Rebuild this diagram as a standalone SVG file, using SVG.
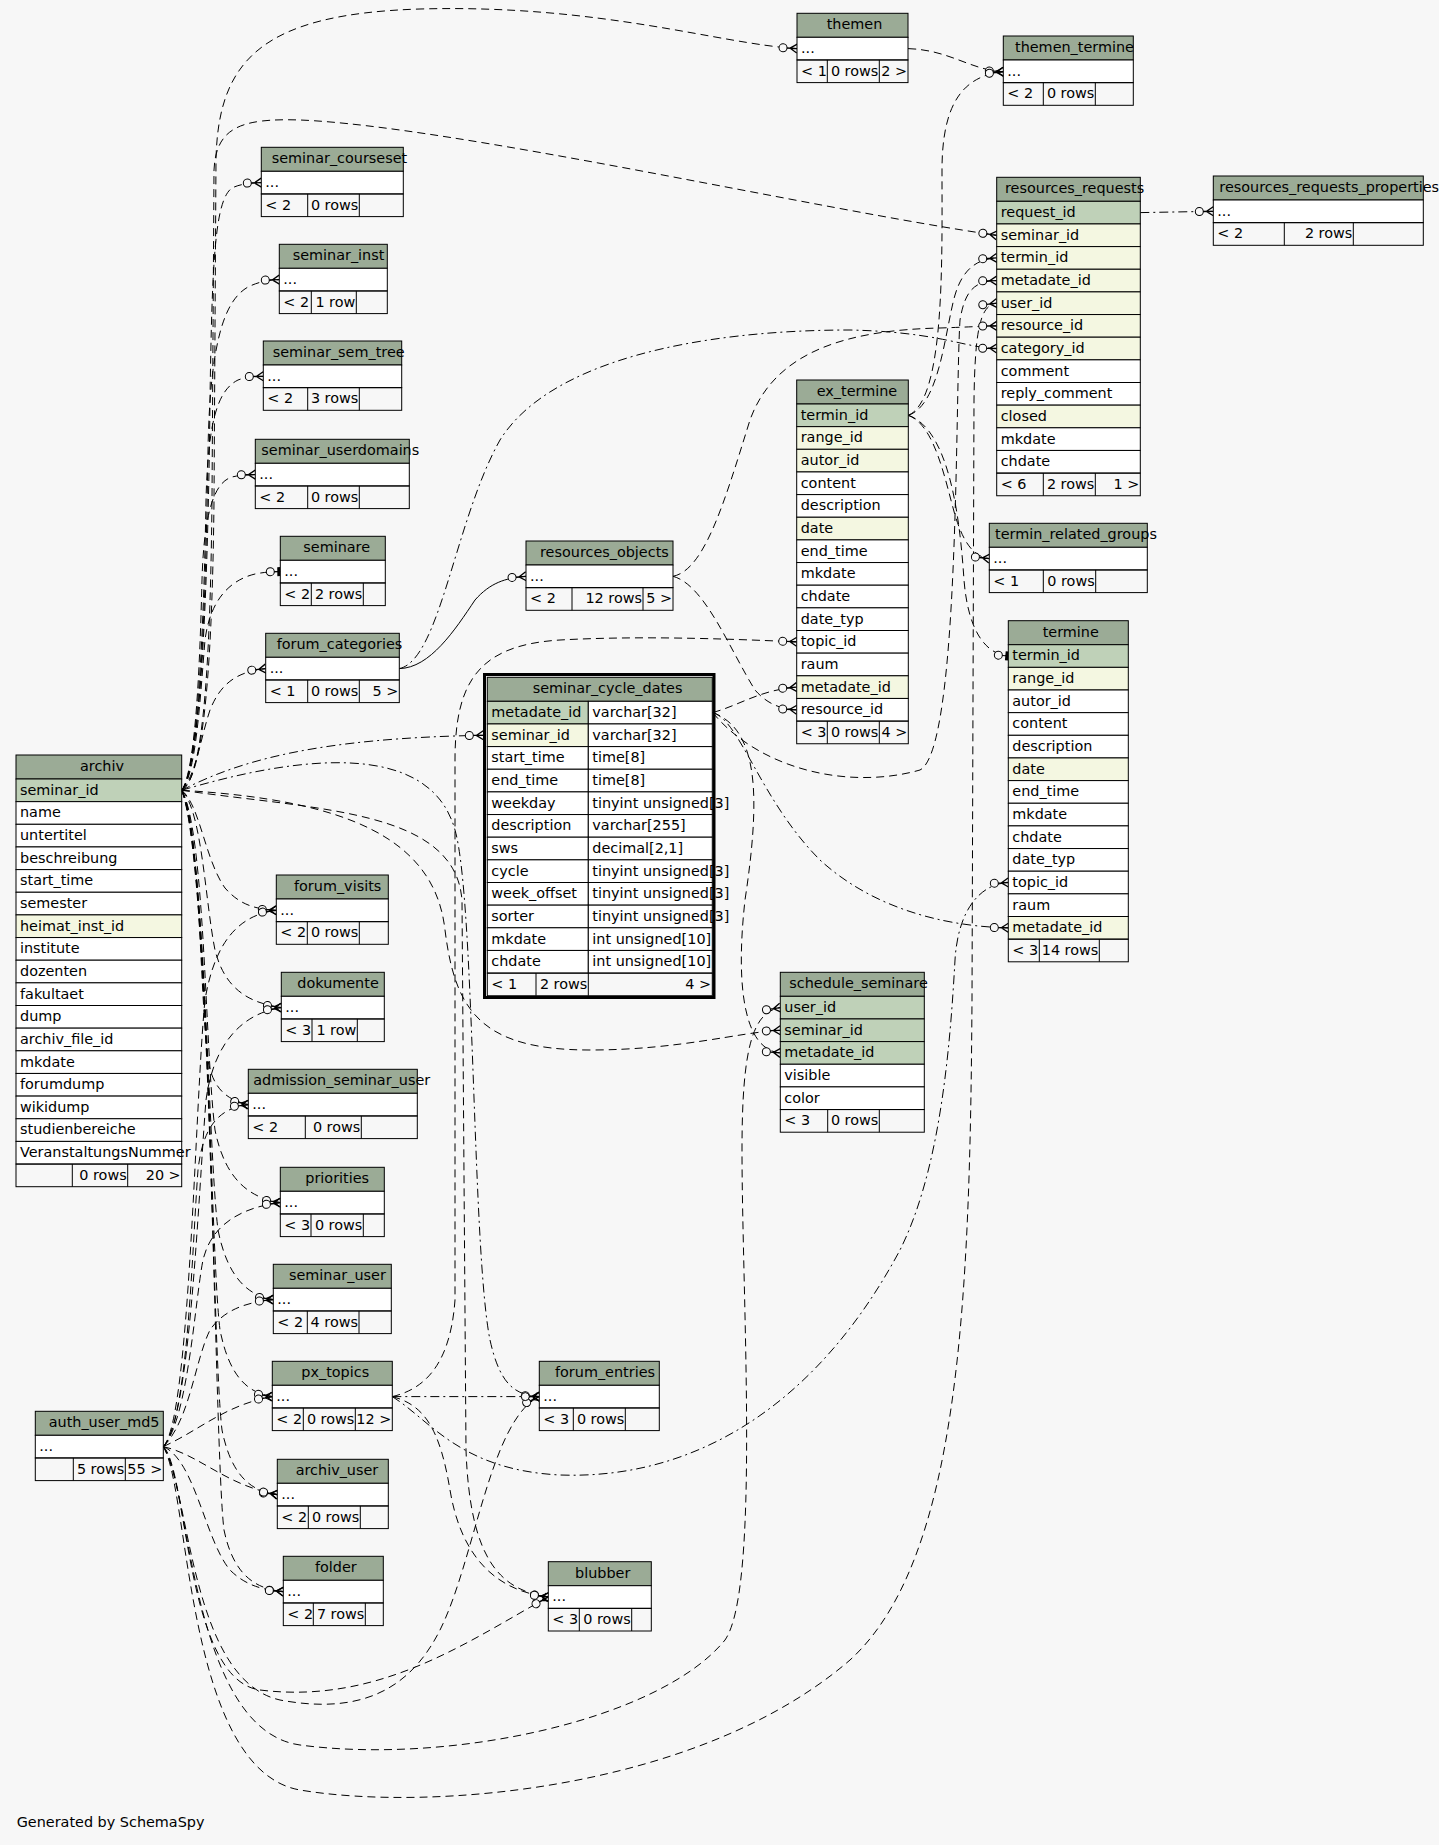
<svg xmlns="http://www.w3.org/2000/svg" width="1439" height="1845" viewBox="0 0 1439 1845">
<style>
text{font-family:"DejaVu Sans","Liberation Sans",sans-serif;font-size:14.4px;fill:#000}
.e{text-anchor:end}
.hd{fill:#9bab96;stroke:#000;stroke-width:1}
.pk{fill:#bfd1b8;stroke:#000;stroke-width:1}
.ix{fill:#f4f7e1;stroke:#000;stroke-width:1}
.w{fill:#fff;stroke:#000;stroke-width:1}
.ft{fill:none;stroke:#000;stroke-width:1}
.dv{stroke:#000;stroke-width:1}
.cn path{fill:none;stroke:#000;stroke-width:1;marker-end:url(#cf)}
.cn path.d{stroke-dasharray:8,5}
.cn path.dd{stroke-dasharray:9,4,2,4}
.cn path.o{marker-end:url(#tc)}
.cn path.n{marker-end:none}
</style>
<defs>
<marker id="cf" markerUnits="userSpaceOnUse" markerWidth="20" markerHeight="12" refX="0" refY="0" orient="auto" overflow="visible">
<circle cx="-14" cy="0" r="4" fill="#f7f7f7" stroke="#000" stroke-width="1"/>
<path d="M0,-4.5 L-7,0 L0,4.5 M-10,0 L0,0" fill="none" stroke="#000" stroke-width="1.3"/>
</marker>
<marker id="tc" markerUnits="userSpaceOnUse" markerWidth="20" markerHeight="12" refX="0" refY="0" orient="auto" overflow="visible">
<circle cx="-10" cy="0" r="4" fill="#f7f7f7" stroke="#000" stroke-width="1"/>
<path d="M-6,0 L0,0" stroke="#000" stroke-width="1"/>
<rect x="-3" y="-4.5" width="3" height="9" fill="#000"/>
</marker>
</defs>
<rect x="0" y="0" width="1439" height="1845" fill="#f7f7f7"/>

<g id="connectors" class="cn">
<path class="d" d="M181.7,790.3 C200,780 212,700 214,500 L216,160 C218,60 262,14 420,9 C600,4 720,44 797,48.6"/>
<path class="d" d="M181.7,790.3 C200,780 210,700 212,500 L214,170 C216,128 240,118 300,120 C450,126 820,210 996.7,235.3"/>
<path class="d" d="M181.7,790.3 C200,770 208,600 210,400 C212,260 215,200 232,188 C240,184 250,183 261.3,182.6"/>
<path class="d" d="M181.7,790.3 C200,770 206,600 208,450 C210,340 225,300 248,287 C258,282 268,280 279.3,279.6"/>
<path class="d" d="M181.7,790.3 C198,770 204,620 206,500 C208,420 218,390 238,380 C246,377 254,376.5 263.3,376.3"/>
<path class="d" d="M181.7,790.3 C196,770 200,660 202,580 C204,510 215,482 232,477 C240,475 248,474.7 255.3,474.6"/>
<path class="d o" d="M181.7,790.3 C196,775 200,700 205,640 C210,600 230,580 255,574 C265,572 272,571.7 280.3,571.6"/>
<path class="d" d="M181.7,790.3 C196,775 200,740 210,710 C220,685 235,672 265.7,668.6"/>
<path class="dd" d="M181.7,790.3 C240,760 320,738 483.3,735.3"/>
<path class="d" d="M181.7,790.3 C200,805 205,860 225,888 C240,905 255,909 276.3,910.3"/>
<path class="d" d="M181.7,790.3 C202,810 205,900 215,950 C225,990 250,1003 281.3,1007.6"/>
<path class="d" d="M181.7,790.3 C200,820 200,1000 208,1060 C213,1090 228,1100 248.3,1104.6"/>
<path class="d" d="M181.7,790.3 C205,830 205,1050 215,1130 C225,1180 250,1198 280.3,1202.6"/>
<path class="d" d="M181.7,790.3 C205,840 208,1150 218,1230 C228,1280 250,1296 273.3,1299.6"/>
<path class="d" d="M181.7,790.3 C208,850 210,1250 220,1330 C230,1380 250,1393 272.3,1396.6"/>
<path class="d" d="M181.7,790.3 C210,860 212,1350 222,1430 C232,1480 255,1492 277.3,1494.6"/>
<path class="d" d="M181.7,790.3 C212,870 214,1450 224,1530 C234,1578 258,1589 283.3,1591.6"/>
<path class="dd" d="M181.7,790.3 C300,755 430,740 455,830 C475,900 472,1250 490,1340 C500,1385 515,1395 539.3,1396.6"/>
<path class="d" d="M181.7,790.3 C320,810 455,810 462,900 L466,1450 C470,1560 500,1590 548.3,1597"/>
<path class="d" d="M181.7,790.3 C350,800 435,840 445,930 C455,1010 480,1050 590,1050 C680,1050 740,1032 780.3,1030.3"/>
<path class="d" d="M163.3,1446.6 C190,1420 195,1100 205,1000 C215,940 240,915 276.3,910.3"/>
<path class="d" d="M163.3,1446.6 C190,1420 198,1200 206,1100 C214,1040 245,1013 281.3,1007.6"/>
<path class="d" d="M163.3,1446.6 C188,1420 192,1250 198,1170 C203,1125 220,1108 248.3,1104.6"/>
<path class="d" d="M163.3,1446.6 C188,1420 195,1300 203,1260 C212,1222 245,1207 280.3,1202.6"/>
<path class="d" d="M163.3,1446.6 C190,1420 195,1360 210,1330 C225,1308 250,1302 273.3,1299.6"/>
<path class="d" d="M163.3,1446.6 C200,1430 225,1405 272.3,1396.6"/>
<path class="d" d="M163.3,1446.6 C200,1455 225,1485 277.3,1494.6"/>
<path class="d" d="M163.3,1446.6 C195,1460 205,1540 230,1570 C245,1585 262,1590 283.3,1591.6"/>
<path class="d" d="M163.3,1446.6 C190,1490 190,1680 280,1700 C360,1715 410,1690 440,1630 C475,1560 490,1420 539.3,1396.6"/>
<path class="d" d="M163.3,1446.6 C188,1470 185,1680 260,1690 C380,1705 470,1640 548.3,1597"/>
<path class="d" d="M163.3,1446.6 C190,1480 190,1730 300,1745 C450,1765 660,1720 725,1640 C760,1590 742,1300 742,1150 C742,1050 752,1012 780.3,1007.6"/>
<path class="d" d="M163.3,1446.6 C190,1490 185,1770 300,1790 C430,1812 700,1790 850,1660 C960,1560 970,1300 972,1000 L974,400 C975,330 980,305 996.7,303.2"/>
<path class="d" d="M908,48.6 C950,50 970,70 1003.3,71.7"/>
<path class="dd" d="M1140.3,212.6 L1213.3,211.3"/>
<path class="d" d="M908.3,415.3 C940,405 945,330 955,295 C963,268 978,259 996.7,257.9"/>
<path class="d" d="M908.3,415.3 C945,400 942,260 942,170 C942,105 962,76 1003.3,71.7"/>
<path class="d" d="M908.3,415.3 C935,425 945,480 955,515 C964,545 975,557 989.3,558.6"/>
<path class="d o" d="M908.3,415.3 C950,430 960,520 964,580 C968,630 985,654 1008.3,656"/>
<path class="d" d="M712.7,712.6 C740,705 760,690 796.7,687.1"/>
<path class="dd" d="M712.7,712.6 C740,720 760,800 820,860 C880,915 960,927 1008.3,927.8"/>
<path class="d" d="M712.7,712.6 C760,730 760,800 745,900 C735,990 745,1050 780.3,1052.9"/>
<path class="d" d="M712.7,712.6 C760,770 850,790 920,770 C960,750 955,400 960,320 C965,290 975,281 996.7,280.6"/>
<path d="M399.3,668.6 C430,668 455,630 475,600 C490,583 505,578 526,576.3"/>
<path class="dd" d="M399.3,668.6 C440,660 455,520 500,440 C550,360 700,330 850,330 C940,332 965,348 996.7,348.5"/>
<path class="d" d="M673,576.3 C705,570 725,500 750,420 C775,350 850,330 940,328 C970,327 985,326 996.7,325.9"/>
<path class="d" d="M673,576.3 C705,585 730,650 755,690 C768,705 782,709 796.7,709.8"/>
<path class="dd" d="M392.3,1396.6 L539.3,1396.6"/>
<path class="d" d="M392.3,1396.6 C425,1405 440,1430 450,1490 C460,1550 490,1590 548.3,1597"/>
<path class="dd" d="M392.3,1396.6 C430,1420 460,1470 560,1475 C700,1480 820,1400 900,1250 C940,1170 950,1050 955,960 C958,910 980,884 1008.3,882.5"/>
<path class="d" d="M392.3,1396.6 C420,1390 450,1370 455,1300 L455,760 C455,680 480,645 560,640 C650,635 750,640 796.7,641.8"/>
</g>

<g id="themen">
<rect class="hd" x="797" y="13.3" width="111" height="24"/><text x="826.7" y="29.3">themen</text>
<rect class="w" x="797" y="37.3" width="111" height="22.65"/><text x="801" y="53">...</text>
<rect class="ft" x="797" y="59.95" width="111" height="22.65"/><path class="dv" d="M827.3,59.95V82.6M879.3,59.95V82.6"/>
<text x="801" y="75.65">&lt; 1</text><text class="e" x="878.3" y="75.65">0 rows</text><text class="e" x="907" y="75.65">2 &gt;</text>
</g>

<g id="themen_termine">
<rect class="hd" x="1003.3" y="36" width="130" height="24"/><text x="1015" y="52">themen_termine</text>
<rect class="w" x="1003.3" y="60" width="130" height="22.65"/><text x="1007.3" y="75.7">...</text>
<rect class="ft" x="1003.3" y="82.65" width="130" height="22.65"/><path class="dv" d="M1043.3,82.65V105.3M1095.3,82.65V105.3"/>
<text x="1007.3" y="98.35">&lt; 2</text><text class="e" x="1094.3" y="98.35">0 rows</text>
</g>

<g id="resources_requests">
<rect class="hd" x="996.7" y="177.3" width="143.6" height="24"/><text x="1005" y="193.3">resources_requests</text>
<rect class="pk" x="996.7" y="201.3" width="143.6" height="22.65"/><text x="1000.7" y="217">request_id</text>
<rect class="ix" x="996.7" y="223.95" width="143.6" height="22.65"/><text x="1000.7" y="239.65">seminar_id</text>
<rect class="ix" x="996.7" y="246.6" width="143.6" height="22.65"/><text x="1000.7" y="262.3">termin_id</text>
<rect class="ix" x="996.7" y="269.25" width="143.6" height="22.65"/><text x="1000.7" y="284.95">metadate_id</text>
<rect class="ix" x="996.7" y="291.9" width="143.6" height="22.65"/><text x="1000.7" y="307.6">user_id</text>
<rect class="ix" x="996.7" y="314.55" width="143.6" height="22.65"/><text x="1000.7" y="330.25">resource_id</text>
<rect class="ix" x="996.7" y="337.2" width="143.6" height="22.65"/><text x="1000.7" y="352.9">category_id</text>
<rect class="w" x="996.7" y="359.85" width="143.6" height="22.65"/><text x="1000.7" y="375.55">comment</text>
<rect class="w" x="996.7" y="382.5" width="143.6" height="22.65"/><text x="1000.7" y="398.2">reply_comment</text>
<rect class="ix" x="996.7" y="405.15" width="143.6" height="22.65"/><text x="1000.7" y="420.85">closed</text>
<rect class="w" x="996.7" y="427.8" width="143.6" height="22.65"/><text x="1000.7" y="443.5">mkdate</text>
<rect class="w" x="996.7" y="450.45" width="143.6" height="22.65"/><text x="1000.7" y="466.15">chdate</text>
<rect class="ft" x="996.7" y="473.1" width="143.6" height="22.65"/><path class="dv" d="M1043.3,473.1V495.75M1095.3,473.1V495.75"/>
<text x="1000.7" y="488.8">&lt; 6</text><text class="e" x="1094.3" y="488.8">2 rows</text><text class="e" x="1139.3" y="488.8">1 &gt;</text>
</g>

<g id="resources_requests_properties">
<rect class="hd" x="1213.3" y="176" width="210" height="24"/><text x="1219.3" y="192">resources_requests_properties</text>
<rect class="w" x="1213.3" y="200" width="210" height="22.65"/><text x="1217.3" y="215.7">...</text>
<rect class="ft" x="1213.3" y="222.65" width="210" height="22.65"/><path class="dv" d="M1284.3,222.65V245.3M1353.3,222.65V245.3"/>
<text x="1217.3" y="238.35">&lt; 2</text><text class="e" x="1352.3" y="238.35">2 rows</text>
</g>

<g id="ex_termine">
<rect class="hd" x="796.7" y="380" width="111.6" height="24"/><text x="816.7" y="396">ex_termine</text>
<rect class="pk" x="796.7" y="404" width="111.6" height="22.65"/><text x="800.7" y="419.7">termin_id</text>
<rect class="ix" x="796.7" y="426.65" width="111.6" height="22.65"/><text x="800.7" y="442.35">range_id</text>
<rect class="ix" x="796.7" y="449.3" width="111.6" height="22.65"/><text x="800.7" y="465">autor_id</text>
<rect class="w" x="796.7" y="471.95" width="111.6" height="22.65"/><text x="800.7" y="487.65">content</text>
<rect class="w" x="796.7" y="494.6" width="111.6" height="22.65"/><text x="800.7" y="510.3">description</text>
<rect class="ix" x="796.7" y="517.25" width="111.6" height="22.65"/><text x="800.7" y="532.95">date</text>
<rect class="w" x="796.7" y="539.9" width="111.6" height="22.65"/><text x="800.7" y="555.6">end_time</text>
<rect class="w" x="796.7" y="562.55" width="111.6" height="22.65"/><text x="800.7" y="578.25">mkdate</text>
<rect class="w" x="796.7" y="585.2" width="111.6" height="22.65"/><text x="800.7" y="600.9">chdate</text>
<rect class="w" x="796.7" y="607.85" width="111.6" height="22.65"/><text x="800.7" y="623.55">date_typ</text>
<rect class="w" x="796.7" y="630.5" width="111.6" height="22.65"/><text x="800.7" y="646.2">topic_id</text>
<rect class="w" x="796.7" y="653.15" width="111.6" height="22.65"/><text x="800.7" y="668.85">raum</text>
<rect class="ix" x="796.7" y="675.8" width="111.6" height="22.65"/><text x="800.7" y="691.5">metadate_id</text>
<rect class="w" x="796.7" y="698.45" width="111.6" height="22.65"/><text x="800.7" y="714.15">resource_id</text>
<rect class="ft" x="796.7" y="721.1" width="111.6" height="22.65"/><path class="dv" d="M827.3,721.1V743.75M879.3,721.1V743.75"/>
<text x="800.7" y="736.8">&lt; 3</text><text class="e" x="878.3" y="736.8">0 rows</text><text class="e" x="907.3" y="736.8">4 &gt;</text>
</g>

<g id="termin_related_groups">
<rect class="hd" x="989.3" y="523.3" width="158" height="24"/><text x="995" y="539.3">termin_related_groups</text>
<rect class="w" x="989.3" y="547.3" width="158" height="22.65"/><text x="993.3" y="563">...</text>
<rect class="ft" x="989.3" y="569.95" width="158" height="22.65"/><path class="dv" d="M1043.3,569.95V592.6M1095.7,569.95V592.6"/>
<text x="993.3" y="585.65">&lt; 1</text><text class="e" x="1094.7" y="585.65">0 rows</text>
</g>

<g id="termine">
<rect class="hd" x="1008.3" y="620.7" width="120" height="24"/><text x="1042.7" y="636.7">termine</text>
<rect class="pk" x="1008.3" y="644.7" width="120" height="22.65"/><text x="1012.3" y="660.4">termin_id</text>
<rect class="ix" x="1008.3" y="667.35" width="120" height="22.65"/><text x="1012.3" y="683.05">range_id</text>
<rect class="w" x="1008.3" y="690" width="120" height="22.65"/><text x="1012.3" y="705.7">autor_id</text>
<rect class="w" x="1008.3" y="712.65" width="120" height="22.65"/><text x="1012.3" y="728.35">content</text>
<rect class="w" x="1008.3" y="735.3" width="120" height="22.65"/><text x="1012.3" y="751">description</text>
<rect class="ix" x="1008.3" y="757.95" width="120" height="22.65"/><text x="1012.3" y="773.65">date</text>
<rect class="w" x="1008.3" y="780.6" width="120" height="22.65"/><text x="1012.3" y="796.3">end_time</text>
<rect class="w" x="1008.3" y="803.25" width="120" height="22.65"/><text x="1012.3" y="818.95">mkdate</text>
<rect class="w" x="1008.3" y="825.9" width="120" height="22.65"/><text x="1012.3" y="841.6">chdate</text>
<rect class="w" x="1008.3" y="848.55" width="120" height="22.65"/><text x="1012.3" y="864.25">date_typ</text>
<rect class="w" x="1008.3" y="871.2" width="120" height="22.65"/><text x="1012.3" y="886.9">topic_id</text>
<rect class="w" x="1008.3" y="893.85" width="120" height="22.65"/><text x="1012.3" y="909.55">raum</text>
<rect class="ix" x="1008.3" y="916.5" width="120" height="22.65"/><text x="1012.3" y="932.2">metadate_id</text>
<rect class="ft" x="1008.3" y="939.15" width="120" height="22.65"/><path class="dv" d="M1039.3,939.15V961.8M1099.3,939.15V961.8"/>
<text x="1012.3" y="954.85">&lt; 3</text><text class="e" x="1098.3" y="954.85">14 rows</text>
</g>

<g id="resources_objects">
<rect class="hd" x="526" y="541" width="147" height="24"/><text x="540" y="557">resources_objects</text>
<rect class="w" x="526" y="565" width="147" height="22.65"/><text x="530" y="580.7">...</text>
<rect class="ft" x="526" y="587.65" width="147" height="22.65"/><path class="dv" d="M572,587.65V610.3M643,587.65V610.3"/>
<text x="530" y="603.35">&lt; 2</text><text class="e" x="642" y="603.35">12 rows</text><text class="e" x="672" y="603.35">5 &gt;</text>
</g>

<g id="seminar_cycle_dates">
<rect x="484.5" y="674.5" width="229.5" height="323" fill="none" stroke="#000" stroke-width="3"/>
<rect class="hd" x="487.3" y="677.3" width="225" height="24"/><text x="532.7" y="693.3">seminar_cycle_dates</text>
<rect class="pk" x="487.3" y="701.3" width="101" height="22.65"/><rect class="w" x="588.3" y="701.3" width="124" height="22.65"/><text x="491.3" y="717">metadate_id</text><text x="592.3" y="717">varchar[32]</text>
<rect class="ix" x="487.3" y="723.95" width="101" height="22.65"/><rect class="w" x="588.3" y="723.95" width="124" height="22.65"/><text x="491.3" y="739.65">seminar_id</text><text x="592.3" y="739.65">varchar[32]</text>
<rect class="w" x="487.3" y="746.6" width="101" height="22.65"/><rect class="w" x="588.3" y="746.6" width="124" height="22.65"/><text x="491.3" y="762.3">start_time</text><text x="592.3" y="762.3">time[8]</text>
<rect class="w" x="487.3" y="769.25" width="101" height="22.65"/><rect class="w" x="588.3" y="769.25" width="124" height="22.65"/><text x="491.3" y="784.95">end_time</text><text x="592.3" y="784.95">time[8]</text>
<rect class="w" x="487.3" y="791.9" width="101" height="22.65"/><rect class="w" x="588.3" y="791.9" width="124" height="22.65"/><text x="491.3" y="807.6">weekday</text><text x="592.3" y="807.6">tinyint unsigned[3]</text>
<rect class="w" x="487.3" y="814.55" width="101" height="22.65"/><rect class="w" x="588.3" y="814.55" width="124" height="22.65"/><text x="491.3" y="830.25">description</text><text x="592.3" y="830.25">varchar[255]</text>
<rect class="w" x="487.3" y="837.2" width="101" height="22.65"/><rect class="w" x="588.3" y="837.2" width="124" height="22.65"/><text x="491.3" y="852.9">sws</text><text x="592.3" y="852.9">decimal[2,1]</text>
<rect class="w" x="487.3" y="859.85" width="101" height="22.65"/><rect class="w" x="588.3" y="859.85" width="124" height="22.65"/><text x="491.3" y="875.55">cycle</text><text x="592.3" y="875.55">tinyint unsigned[3]</text>
<rect class="w" x="487.3" y="882.5" width="101" height="22.65"/><rect class="w" x="588.3" y="882.5" width="124" height="22.65"/><text x="491.3" y="898.2">week_offset</text><text x="592.3" y="898.2">tinyint unsigned[3]</text>
<rect class="w" x="487.3" y="905.15" width="101" height="22.65"/><rect class="w" x="588.3" y="905.15" width="124" height="22.65"/><text x="491.3" y="920.85">sorter</text><text x="592.3" y="920.85">tinyint unsigned[3]</text>
<rect class="w" x="487.3" y="927.8" width="101" height="22.65"/><rect class="w" x="588.3" y="927.8" width="124" height="22.65"/><text x="491.3" y="943.5">mkdate</text><text x="592.3" y="943.5">int unsigned[10]</text>
<rect class="w" x="487.3" y="950.45" width="101" height="22.65"/><rect class="w" x="588.3" y="950.45" width="124" height="22.65"/><text x="491.3" y="966.15">chdate</text><text x="592.3" y="966.15">int unsigned[10]</text>
<rect class="ft" x="487.3" y="973.1" width="225" height="22.65"/><path class="dv" d="M536,973.1V995.75M588.3,973.1V995.75"/>
<text x="491.3" y="988.8">&lt; 1</text><text class="e" x="587.3" y="988.8">2 rows</text><text class="e" x="711" y="988.8">4 &gt;</text>
</g>

<g id="archiv">
<rect class="hd" x="16" y="755" width="165.7" height="24"/><text x="80" y="771">archiv</text>
<rect class="pk" x="16" y="779" width="165.7" height="22.65"/><text x="20" y="794.7">seminar_id</text>
<rect class="w" x="16" y="801.65" width="165.7" height="22.65"/><text x="20" y="817.35">name</text>
<rect class="w" x="16" y="824.3" width="165.7" height="22.65"/><text x="20" y="840">untertitel</text>
<rect class="w" x="16" y="846.95" width="165.7" height="22.65"/><text x="20" y="862.65">beschreibung</text>
<rect class="w" x="16" y="869.6" width="165.7" height="22.65"/><text x="20" y="885.3">start_time</text>
<rect class="w" x="16" y="892.25" width="165.7" height="22.65"/><text x="20" y="907.95">semester</text>
<rect class="ix" x="16" y="914.9" width="165.7" height="22.65"/><text x="20" y="930.6">heimat_inst_id</text>
<rect class="w" x="16" y="937.55" width="165.7" height="22.65"/><text x="20" y="953.25">institute</text>
<rect class="w" x="16" y="960.2" width="165.7" height="22.65"/><text x="20" y="975.9">dozenten</text>
<rect class="w" x="16" y="982.85" width="165.7" height="22.65"/><text x="20" y="998.55">fakultaet</text>
<rect class="w" x="16" y="1005.5" width="165.7" height="22.65"/><text x="20" y="1021.2">dump</text>
<rect class="w" x="16" y="1028.15" width="165.7" height="22.65"/><text x="20" y="1043.85">archiv_file_id</text>
<rect class="w" x="16" y="1050.8" width="165.7" height="22.65"/><text x="20" y="1066.5">mkdate</text>
<rect class="w" x="16" y="1073.45" width="165.7" height="22.65"/><text x="20" y="1089.15">forumdump</text>
<rect class="w" x="16" y="1096.1" width="165.7" height="22.65"/><text x="20" y="1111.8">wikidump</text>
<rect class="w" x="16" y="1118.75" width="165.7" height="22.65"/><text x="20" y="1134.45">studienbereiche</text>
<rect class="w" x="16" y="1141.4" width="165.7" height="22.65"/><text x="20" y="1157.1">VeranstaltungsNummer</text>
<rect class="ft" x="16" y="1164.05" width="165.7" height="22.65"/><path class="dv" d="M72.3,1164.05V1186.7M127.7,1164.05V1186.7"/>
<text class="e" x="126.7" y="1179.75">0 rows</text><text class="e" x="180.7" y="1179.75">20 &gt;</text>
</g>

<g id="seminar_courseset">
<rect class="hd" x="261.3" y="147.3" width="142" height="24"/><text x="271.7" y="163.3">seminar_courseset</text>
<rect class="w" x="261.3" y="171.3" width="142" height="22.65"/><text x="265.3" y="187">...</text>
<rect class="ft" x="261.3" y="193.95" width="142" height="22.65"/><path class="dv" d="M307.7,193.95V216.6M359.3,193.95V216.6"/>
<text x="265.3" y="209.65">&lt; 2</text><text class="e" x="358.3" y="209.65">0 rows</text>
</g>

<g id="seminar_inst">
<rect class="hd" x="279.3" y="244.3" width="108" height="24"/><text x="292.7" y="260.3">seminar_inst</text>
<rect class="w" x="279.3" y="268.3" width="108" height="22.65"/><text x="283.3" y="284">...</text>
<rect class="ft" x="279.3" y="290.95" width="108" height="22.65"/><path class="dv" d="M311.3,290.95V313.6M356.3,290.95V313.6"/>
<text x="283.3" y="306.65">&lt; 2</text><text class="e" x="355.3" y="306.65">1 row</text>
</g>

<g id="seminar_sem_tree">
<rect class="hd" x="263.3" y="341" width="138.4" height="24"/><text x="272.7" y="357">seminar_sem_tree</text>
<rect class="w" x="263.3" y="365" width="138.4" height="22.65"/><text x="267.3" y="380.7">...</text>
<rect class="ft" x="263.3" y="387.65" width="138.4" height="22.65"/><path class="dv" d="M307.7,387.65V410.3M359.3,387.65V410.3"/>
<text x="267.3" y="403.35">&lt; 2</text><text class="e" x="358.3" y="403.35">3 rows</text>
</g>

<g id="seminar_userdomains">
<rect class="hd" x="255.3" y="439.3" width="154" height="24"/><text x="261.3" y="455.3">seminar_userdomains</text>
<rect class="w" x="255.3" y="463.3" width="154" height="22.65"/><text x="259.3" y="479">...</text>
<rect class="ft" x="255.3" y="485.95" width="154" height="22.65"/><path class="dv" d="M307.7,485.95V508.6M359.3,485.95V508.6"/>
<text x="259.3" y="501.65">&lt; 2</text><text class="e" x="358.3" y="501.65">0 rows</text>
</g>

<g id="seminare">
<rect class="hd" x="280.3" y="536.3" width="105" height="24"/><text x="303.3" y="552.3">seminare</text>
<rect class="w" x="280.3" y="560.3" width="105" height="22.65"/><text x="284.3" y="576">...</text>
<rect class="ft" x="280.3" y="582.95" width="105" height="22.65"/><path class="dv" d="M311.3,582.95V605.6M363.3,582.95V605.6"/>
<text x="284.3" y="598.65">&lt; 2</text><text class="e" x="362.3" y="598.65">2 rows</text>
</g>

<g id="forum_categories">
<rect class="hd" x="265.7" y="633.3" width="133.6" height="24"/><text x="276.7" y="649.3">forum_categories</text>
<rect class="w" x="265.7" y="657.3" width="133.6" height="22.65"/><text x="269.7" y="673">...</text>
<rect class="ft" x="265.7" y="679.95" width="133.6" height="22.65"/><path class="dv" d="M307.7,679.95V702.6M359.3,679.95V702.6"/>
<text x="269.7" y="695.65">&lt; 1</text><text class="e" x="358.3" y="695.65">0 rows</text><text class="e" x="398.3" y="695.65">5 &gt;</text>
</g>

<g id="forum_visits">
<rect class="hd" x="276.3" y="875" width="112" height="24"/><text x="294" y="891">forum_visits</text>
<rect class="w" x="276.3" y="899" width="112" height="22.65"/><text x="280.3" y="914.7">...</text>
<rect class="ft" x="276.3" y="921.65" width="112" height="22.65"/><path class="dv" d="M307.3,921.65V944.3M359.3,921.65V944.3"/>
<text x="280.3" y="937.35">&lt; 2</text><text class="e" x="358.3" y="937.35">0 rows</text>
</g>

<g id="dokumente">
<rect class="hd" x="281.3" y="972.3" width="103" height="24"/><text x="297.3" y="988.3">dokumente</text>
<rect class="w" x="281.3" y="996.3" width="103" height="22.65"/><text x="285.3" y="1012">...</text>
<rect class="ft" x="281.3" y="1018.95" width="103" height="22.65"/><path class="dv" d="M312,1018.95V1041.6M357.3,1018.95V1041.6"/>
<text x="285.3" y="1034.65">&lt; 3</text><text class="e" x="356.3" y="1034.65">1 row</text>
</g>

<g id="admission_seminar_user">
<rect class="hd" x="248.3" y="1069.3" width="169" height="24"/><text x="253.3" y="1085.3">admission_seminar_user</text>
<rect class="w" x="248.3" y="1093.3" width="169" height="22.65"/><text x="252.3" y="1109">...</text>
<rect class="ft" x="248.3" y="1115.95" width="169" height="22.65"/><path class="dv" d="M305.3,1115.95V1138.6M361.3,1115.95V1138.6"/>
<text x="252.3" y="1131.65">&lt; 2</text><text class="e" x="360.3" y="1131.65">0 rows</text>
</g>

<g id="priorities">
<rect class="hd" x="280.3" y="1167.3" width="104" height="24"/><text x="305.3" y="1183.3">priorities</text>
<rect class="w" x="280.3" y="1191.3" width="104" height="22.65"/><text x="284.3" y="1207">...</text>
<rect class="ft" x="280.3" y="1213.95" width="104" height="22.65"/><path class="dv" d="M311,1213.95V1236.6M363.3,1213.95V1236.6"/>
<text x="284.3" y="1229.65">&lt; 3</text><text class="e" x="362.3" y="1229.65">0 rows</text>
</g>

<g id="seminar_user">
<rect class="hd" x="273.3" y="1264.3" width="118" height="24"/><text x="289" y="1280.3">seminar_user</text>
<rect class="w" x="273.3" y="1288.3" width="118" height="22.65"/><text x="277.3" y="1304">...</text>
<rect class="ft" x="273.3" y="1310.95" width="118" height="22.65"/><path class="dv" d="M307.3,1310.95V1333.6M359,1310.95V1333.6"/>
<text x="277.3" y="1326.65">&lt; 2</text><text class="e" x="358" y="1326.65">4 rows</text>
</g>

<g id="px_topics">
<rect class="hd" x="272.3" y="1361.3" width="120" height="24"/><text x="301.3" y="1377.3">px_topics</text>
<rect class="w" x="272.3" y="1385.3" width="120" height="22.65"/><text x="276.3" y="1401">...</text>
<rect class="ft" x="272.3" y="1407.95" width="120" height="22.65"/><path class="dv" d="M303.3,1407.95V1430.6M355.3,1407.95V1430.6"/>
<text x="276.3" y="1423.65">&lt; 2</text><text class="e" x="354.3" y="1423.65">0 rows</text><text class="e" x="391.3" y="1423.65">12 &gt;</text>
</g>

<g id="archiv_user">
<rect class="hd" x="277.3" y="1459.3" width="111" height="24"/><text x="295.7" y="1475.3">archiv_user</text>
<rect class="w" x="277.3" y="1483.3" width="111" height="22.65"/><text x="281.3" y="1499">...</text>
<rect class="ft" x="277.3" y="1505.95" width="111" height="22.65"/><path class="dv" d="M308.3,1505.95V1528.6M360.3,1505.95V1528.6"/>
<text x="281.3" y="1521.65">&lt; 2</text><text class="e" x="359.3" y="1521.65">0 rows</text>
</g>

<g id="folder">
<rect class="hd" x="283.3" y="1556.3" width="100" height="24"/><text x="315" y="1572.3">folder</text>
<rect class="w" x="283.3" y="1580.3" width="100" height="22.65"/><text x="287.3" y="1596">...</text>
<rect class="ft" x="283.3" y="1602.95" width="100" height="22.65"/><path class="dv" d="M313.3,1602.95V1625.6M365.3,1602.95V1625.6"/>
<text x="287.3" y="1618.65">&lt; 2</text><text class="e" x="364.3" y="1618.65">7 rows</text>
</g>

<g id="forum_entries">
<rect class="hd" x="539.3" y="1361.3" width="120" height="24"/><text x="555" y="1377.3">forum_entries</text>
<rect class="w" x="539.3" y="1385.3" width="120" height="22.65"/><text x="543.3" y="1401">...</text>
<rect class="ft" x="539.3" y="1407.95" width="120" height="22.65"/><path class="dv" d="M573.3,1407.95V1430.6M625.3,1407.95V1430.6"/>
<text x="543.3" y="1423.65">&lt; 3</text><text class="e" x="624.3" y="1423.65">0 rows</text>
</g>

<g id="blubber">
<rect class="hd" x="548.3" y="1561.7" width="103" height="24"/><text x="575" y="1577.7">blubber</text>
<rect class="w" x="548.3" y="1585.7" width="103" height="22.65"/><text x="552.3" y="1601.4">...</text>
<rect class="ft" x="548.3" y="1608.35" width="103" height="22.65"/><path class="dv" d="M579.3,1608.35V1631M631.7,1608.35V1631"/>
<text x="552.3" y="1624.05">&lt; 3</text><text class="e" x="630.7" y="1624.05">0 rows</text>
</g>

<g id="schedule_seminare">
<rect class="hd" x="780.3" y="972.3" width="144" height="24"/><text x="789.3" y="988.3">schedule_seminare</text>
<rect class="pk" x="780.3" y="996.3" width="144" height="22.65"/><text x="784.3" y="1012">user_id</text>
<rect class="pk" x="780.3" y="1018.95" width="144" height="22.65"/><text x="784.3" y="1034.65">seminar_id</text>
<rect class="pk" x="780.3" y="1041.6" width="144" height="22.65"/><text x="784.3" y="1057.3">metadate_id</text>
<rect class="w" x="780.3" y="1064.25" width="144" height="22.65"/><text x="784.3" y="1079.95">visible</text>
<rect class="w" x="780.3" y="1086.9" width="144" height="22.65"/><text x="784.3" y="1102.6">color</text>
<rect class="ft" x="780.3" y="1109.55" width="144" height="22.65"/><path class="dv" d="M827.7,1109.55V1132.2M879.3,1109.55V1132.2"/>
<text x="784.3" y="1125.25">&lt; 3</text><text class="e" x="878.3" y="1125.25">0 rows</text>
</g>

<g id="auth_user_md5">
<rect class="hd" x="35.3" y="1411.3" width="128" height="24"/><text x="48.7" y="1427.3">auth_user_md5</text>
<rect class="w" x="35.3" y="1435.3" width="128" height="22.65"/><text x="39.3" y="1451">...</text>
<rect class="ft" x="35.3" y="1457.95" width="128" height="22.65"/><path class="dv" d="M73.3,1457.95V1480.6M125.3,1457.95V1480.6"/>
<text class="e" x="124.3" y="1473.65">5 rows</text><text class="e" x="162.3" y="1473.65">55 &gt;</text>
</g>

<text x="16.7" y="1827">Generated by SchemaSpy</text>
</svg>
